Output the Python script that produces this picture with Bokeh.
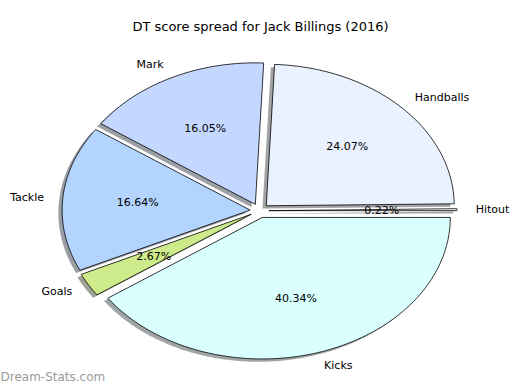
import numpy as np
from bokeh.plotting import figure
from bokeh.models import Range1d, Label, ColumnDataSource
from bokeh.core.properties import value
from bokeh.embed import file_html
from bokeh.resources import INLINE

title_text = "DT score spread for Jack Billings (2016)"
labels = ["Hitout", "Handballs", "Mark", "Tackle", "Goals", "Kicks"]
pcts = [0.22, 24.07, 16.05, 16.64, 2.67, 40.34]
colors = ["#ffffff", "#eaf1ff", "#c4d8ff", "#b3d4ff", "#cdeb8b", "#d9ffff"]

EXPLODE = 0.05
SH_OFF = 0.02
FONT = "DejaVu Sans"

W, H = 512, 382
sx, sy = 188.0, 141.5          # px per data unit (elliptical pie)
cxp, cyp = 259.0, 210.2        # pie centre within plot, px from left/top
x0 = -cxp / sx
x1 = x0 + W / sx
y1 = cyp / sy
y0 = y1 - H / sy

p = figure(width=W, height=H, output_backend="svg", toolbar_location=None,
           x_range=Range1d(x0, x1), y_range=Range1d(y0, y1), min_border=0)
p.axis.visible = False
p.grid.visible = False
p.outline_line_color = None
p.background_fill_color = "white"
p.border_fill_color = "white"

vals = np.array(pcts, dtype=float)
frac = vals / vals.sum()
t_end = np.cumsum(frac) * 2 * np.pi
t_start = np.concatenate([[0.0], t_end[:-1]])

wx, wy, shx, shy, sh_col = [], [], [], [], []
lx, ly, lalign, px_, py_ = [], [], [], [], []
for i in range(len(labels)):
    a, b = t_start[i], t_end[i]
    mid = 0.5 * (a + b)
    ex, ey = EXPLODE * np.cos(mid), EXPLODE * np.sin(mid)
    n = max(3, int(np.degrees(b - a)) + 2)
    t = np.linspace(a, b, n)
    xs = np.concatenate([[ex], ex + np.cos(t)])
    ys = np.concatenate([[ey], ey + np.sin(t)])
    wx.append(list(xs)); wy.append(list(ys))
    shx.append(list(xs - SH_OFF)); shy.append(list(ys - SH_OFF))
    c = colors[i].lstrip("#")
    r, g, bb = (int(c[k:k + 2], 16) for k in (0, 2, 4))
    sh_col.append("#%02x%02x%02x" % (int(r * 0.3), int(g * 0.3), int(bb * 0.3)))
    lx.append(ex + 1.1 * np.cos(mid)); ly.append(ey + 1.1 * np.sin(mid))
    lalign.append("left" if np.cos(mid) >= 0 else "right")
    px_.append(ex + 0.6 * np.cos(mid)); py_.append(ey + 0.6 * np.sin(mid))

p.patches(shx, shy, fill_color=sh_col, fill_alpha=0.5, line_color=None)
p.patches(wx, wy, fill_color=colors, line_color="black", line_width=0.8)

lsrc = ColumnDataSource(dict(x=lx, y=ly, t=labels, a=lalign))
p.text(x="x", y="y", text="t", text_align="a", text_baseline="middle",
       source=lsrc, text_font=value(FONT), text_font_size="11px", text_color="black")
psrc = ColumnDataSource(dict(x=px_, y=py_, t=["%.2f%%" % v for v in pcts]))
p.text(x="x", y="y", text="t", text_align="center", text_baseline="middle",
       source=psrc, text_font=value(FONT), text_font_size="11px", text_color="black")

p.add_layout(Label(x=260, y=H - 26, x_units="screen", y_units="screen", text=title_text,
                   text_align="center", text_baseline="middle", text_font=FONT,
                   text_font_size="13px", text_color="black"))
p.add_layout(Label(x=0, y=-1, x_units="screen", y_units="screen", text="Dream-Stats.com",
                   text_align="left", text_baseline="bottom", text_font=FONT,
                   text_font_size="12px", text_color="#999999"))

open("out.html", "w").write(file_html(p, INLINE))
